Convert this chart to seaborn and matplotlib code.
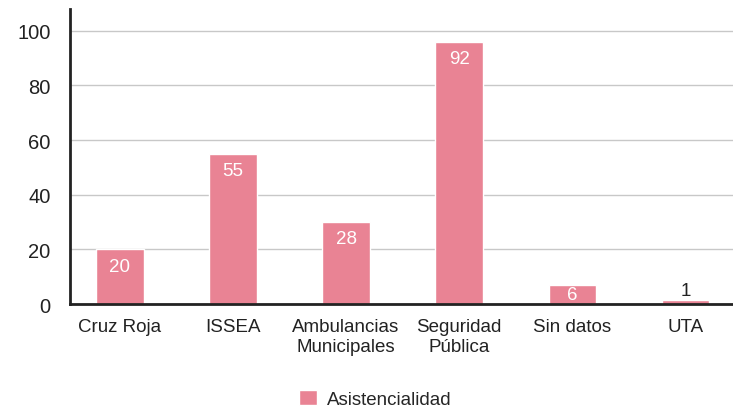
import pandas as pd
import numpy as np
import matplotlib.pyplot as plt
import seaborn as sns

# --------------------- DATA --------------------- #

categories = ['Cruz Roja', 'ISSEA', 'Ambulancias\nMunicipales',
              'Seguridad\nPública', 'Sin datos', 'UTA']
bar_heights = [20, 55, 30, 96, 7, 1.5]   # heights as drawn
bar_labels = [20, 55, 28, 92, 6, 1]      # values printed on bars
series_name = 'Asistencialidad'

dataset = pd.DataFrame({'Categoria': categories,
                        'Valor': bar_heights,
                        'Serie': series_name})

# --------------------- PLOT --------------------- #

sns.set_style('white')
plt.rcParams['font.family'] = ['Liberation Sans', 'DejaVu Sans']

pink = '#E98394'
fig = plt.figure(figsize=(7.33, 4.14), dpi=100)
ax = fig.add_axes([0.0955, 0.263, 0.9045, 0.713])

sns.barplot(x='Categoria', y='Valor', hue='Serie', data=dataset,
            palette=[pink], saturation=1, width=0.42, dodge=False,
            ax=ax, zorder=3)

# Bar labels
for i, (h, lab) in enumerate(zip(bar_heights, bar_labels)):
    if h < 3:
        ax.annotate(str(lab), (i, h), xytext=(0, 1), textcoords='offset points',
                    ha='center', va='bottom', color='#222222', fontsize=13.5)
    else:
        off = -1 if h < 10 else -6
        ax.annotate(str(lab), (i, h), xytext=(0, off), textcoords='offset points',
                    ha='center', va='top', color='white', fontsize=13.5)

ax.set_ylim(0, 108)
ax.set_xlim(-0.44, 5.42)
ax.set_yticks([0, 20, 40, 60, 80, 100])
ax.yaxis.grid(True, color='#C8C8C8', linewidth=1, zorder=0)
ax.set_axisbelow(True)

for s in ['top', 'right']:
    ax.spines[s].set_visible(False)
for s in ['left', 'bottom']:
    ax.spines[s].set_color('#222222')
    ax.spines[s].set_linewidth(2)
    ax.spines[s].set_zorder(4)

ax.tick_params(axis='both', length=0, labelsize=13.5, colors='#222222')
ax.tick_params(axis='y', pad=14, labelsize=14.5)
ax.tick_params(axis='x', pad=10)
for t in ax.get_xticklabels():
    t.set_linespacing(1.2)

ax.set_xlabel('')
ax.set_ylabel('')

# Legend
ax.legend(loc='lower center', bbox_to_anchor=(0.46, -0.39), frameon=False,
          fontsize=13.5, handlelength=1.0, handleheight=0.8, handletextpad=0.5,
          borderaxespad=0.2)

plt.savefig('out.png', dpi=100)
